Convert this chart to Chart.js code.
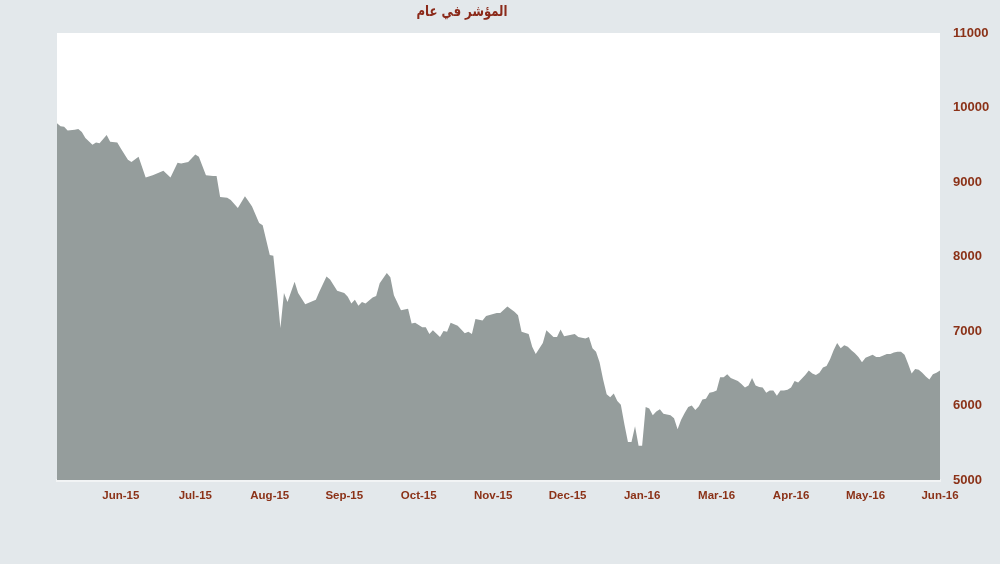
<!DOCTYPE html>
<html lang="ar">
<head>
<meta charset="UTF-8">
<title>المؤشر في عام</title>
<style>
    body { margin: 0; background: #e3e8eb; }
    .box { position: relative; width: 1000px; height: 564px; }
    .titulo {
        position: absolute; left: 382px; top: 2px; width: 160px;
        text-align: center; direction: rtl;
        font: bold 15px "DejaVu Sans", sans-serif; color: #8b2a1a;
        transform: scaleX(0.78);
    }
</style>
</head>
<body>
<div class="box">
    <div class="titulo">المؤشر في عام</div>
    <canvas id="grafico" width="1000" height="564"></canvas>
</div>

<script src="https://cdn.jsdelivr.net/npm/chart.js@4.4.1/dist/chart.umd.min.js"></script>
<script>
    // trading day index (0 = first day shown) and index level
    var days = [0, 1, 2, 3, 5, 6, 7, 8, 10, 11, 12, 14, 15, 17, 18, 20, 21, 23, 25, 27,
        30, 32, 34, 35, 37, 39, 40, 42, 44, 45, 46, 48, 49, 51, 53, 54, 55, 57, 58, 60,
        61, 62, 63, 64, 65, 67, 68, 70, 73, 74, 76, 77, 79, 81, 82, 83, 84, 85, 86, 87,
        89, 90, 91, 93, 94, 95, 97, 99, 100, 101, 103, 104, 105, 106, 108, 109, 110, 111, 113, 115,
        116, 117, 118, 120, 121, 124, 125, 127, 129, 130, 131, 133, 134, 135, 137, 138, 140, 141, 142, 143,
        146, 147, 149, 150, 151, 152, 153, 154, 155, 156, 157, 158, 159, 160, 161, 162, 163, 164, 165, 166,
        167, 168, 169, 170, 171, 172, 173, 174, 175, 176, 177, 178, 179, 180, 181, 182, 183, 184, 185, 186,
        187, 188, 189, 190, 191, 192, 193, 194, 195, 196, 197, 198, 199, 200, 201, 202, 203, 204, 205, 206,
        207, 208, 209, 210, 211, 212, 213, 214, 215, 216, 217, 218, 219, 220, 221, 222, 223, 224, 225, 226,
        227, 228, 229, 230, 231, 232, 233, 234, 235, 236, 237, 238, 239, 240, 241, 242, 243, 244, 245, 246,
        247, 248, 249];

    var values = [9790, 9750, 9740, 9690, 9700, 9710, 9670, 9590, 9500, 9530, 9520, 9630, 9540, 9530, 9450, 9300, 9270, 9340, 9060, 9090,
        9150, 9060, 9260, 9250, 9270, 9370, 9340, 9090, 9080, 9080, 8800, 8790, 8760, 8650, 8810, 8740, 8670, 8450, 8420, 8020,
        8010, 7550, 7040, 7510, 7390, 7660, 7510, 7360, 7420, 7530, 7730, 7690, 7540, 7510, 7460, 7370, 7420, 7340, 7390, 7370,
        7450, 7470, 7640, 7780, 7720, 7480, 7280, 7300, 7100, 7110, 7050, 7050, 6960, 7010, 6920, 7000, 6990, 7110, 7070, 6970,
        6990, 6960, 7160, 7140, 7200, 7240, 7240, 7330, 7260, 7210, 6990, 6960, 6790, 6690, 6840, 7010, 6920, 6920, 7020, 6930,
        6960, 6920, 6900, 6920, 6770, 6720, 6580, 6350, 6150, 6110, 6160, 6060, 6010, 5750, 5510, 5510, 5720, 5460, 5460, 5980,
        5960, 5870, 5920, 5950, 5890, 5880, 5870, 5830, 5680, 5810, 5900, 5980, 6000, 5940, 5990, 6080, 6090, 6170, 6180, 6200,
        6380, 6380, 6420, 6370, 6350, 6330, 6290, 6240, 6270, 6370, 6270, 6250, 6240, 6170, 6200, 6200, 6130, 6200, 6200, 6210,
        6240, 6330, 6310, 6360, 6410, 6470, 6430, 6410, 6440, 6510, 6530, 6620, 6740, 6840, 6770, 6810, 6790, 6740, 6700, 6650,
        6580, 6640, 6660, 6680, 6650, 6650, 6670, 6690, 6690, 6710, 6720, 6720, 6680, 6560, 6430, 6490, 6480, 6440, 6390, 6350,
        6420, 6440, 6470];

    var tickDays = [18, 39, 60, 81, 102, 123, 144, 165, 186, 207, 228, 249];
    var tickLabels = ['Jun-15', 'Jul-15', 'Aug-15', 'Sep-15', 'Oct-15', 'Nov-15', 'Dec-15',
        'Jan-16', 'Mar-16', 'Apr-16', 'May-16', 'Jun-16'];

    var corTexto = '#8b3218';

    var pontos = [];
    for (let i = 0; i < days.length; i++) {
        pontos.push({ x: days[i], y: values[i] });
    }

    // white plot area
    var fundoBranco = {
        id: 'fundoBranco',
        beforeDraw(chart) {
            var a = chart.chartArea;
            chart.ctx.save();
            chart.ctx.fillStyle = '#ffffff';
            chart.ctx.fillRect(a.left, a.top, a.right - a.left, a.bottom - a.top);
            chart.ctx.restore();
        }
    };

    var grafico = new Chart(document.getElementById('grafico'), {
        type: 'line',
        data: {
            datasets: [{
                data: pontos,
                fill: 'start',
                backgroundColor: '#959d9c',
                borderWidth: 0,
                pointRadius: 0,
                tension: 0
            }]
        },
        options: {
            responsive: false,
            animation: false,
            layout: { padding: { left: 57, right: 0, top: 33, bottom: 54 } },
            plugins: { legend: { display: false }, tooltip: { enabled: false } },
            scales: {
                x: {
                    type: 'linear',
                    min: 0,
                    max: 249,
                    grid: { display: false, drawTicks: false },
                    border: { display: true, color: '#f2f4f5', width: 3, dash: [1, 2] },
                    afterBuildTicks: function (s) {
                        s.ticks = tickDays.map(function (d) { return { value: d }; });
                    },
                    afterFit: function (s) { s.height = 30; },
                    ticks: {
                        autoSkip: false,
                        maxRotation: 0,
                        padding: 9,
                        color: corTexto,
                        font: { family: 'Liberation Sans', size: 11.5, weight: 'bold' },
                        callback: function (v) {
                            var i = tickDays.indexOf(v);
                            return i >= 0 ? tickLabels[i] : '';
                        }
                    }
                },
                y: {
                    position: 'right',
                    min: 5000,
                    max: 11000,
                    grid: { display: false, drawTicks: false },
                    border: { display: false },
                    afterFit: function (s) { s.width = 60; },
                    ticks: {
                        stepSize: 1000,
                        padding: 13,
                        color: corTexto,
                        font: { family: 'Liberation Sans', size: 13, weight: 'bold' },
                        callback: function (v) { return String(v); }
                    }
                }
            }
        },
        plugins: [fundoBranco]
    });
</script>
</body>
</html>
